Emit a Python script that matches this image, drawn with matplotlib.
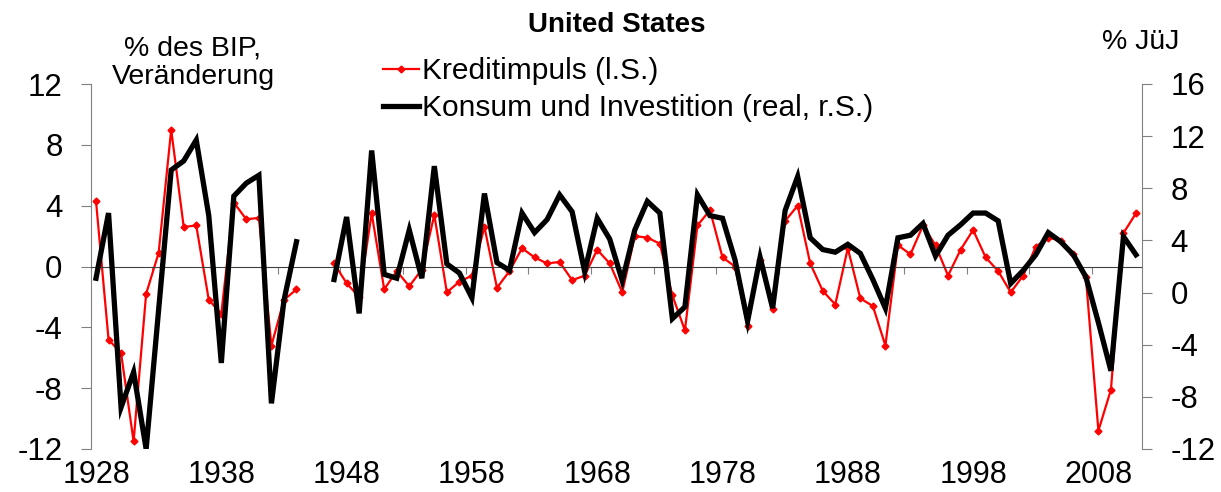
import numpy as np
import matplotlib
matplotlib.use("Agg")
import matplotlib.pyplot as plt

plt.rcParams["font.family"] = ["Liberation Sans", "DejaVu Sans"]
plt.rcParams["axes.unicode_minus"] = False

nan = np.nan
years = np.arange(1928, 2012)

# Kreditimpuls, % des BIP (left axis)
credit_impulse = [
    4.3, -4.8, -5.7, -11.5, -1.8, 0.9, 9.0, 2.6, 2.7, -2.2,
    -3.1, 4.2, 3.1, 3.2, -5.2, -2.2, -1.5, nan, nan, 0.2,
    -1.1, -2.0, 3.5, -1.5, -0.3, -1.3, -0.2, 3.4, -1.7, -1.0,
    -0.6, 2.6, -1.4, -0.3, 1.2, 0.6, 0.2, 0.3, -0.9, -0.6,
    1.1, 0.2, -1.7, 2.0, 1.9, 1.5, -1.9, -4.2, 2.7, 3.7,
    0.6, 0.0, -3.9, 0.4, -2.8, 3.0, 4.0, 0.2, -1.6, -2.5,
    1.2, -2.1, -2.6, -5.2, 1.4, 0.8, 2.7, 1.4, -0.6, 1.1,
    2.4, 0.6, -0.3, -1.7, -0.6, 1.3, 1.9, 1.7, 0.8, -0.7,
    -10.8, -8.1, 2.2, 3.5,
]

# Konsum und Investition, real, % JuJ (right axis)
consumption_investment = [
    1.1, 6.1, -8.8, -6.1, -12.0, -1.3, 9.4, 10.1, 11.7, 5.9,
    -5.4, 7.4, 8.4, 9.0, -8.5, -0.6, 3.9, nan, nan, 1.0,
    5.8, -1.6, 10.9, 1.4, 1.1, 4.8, 1.1, 9.7, 2.2, 1.5,
    -0.4, 7.6, 2.3, 1.7, 6.1, 4.6, 5.6, 7.5, 6.2, 1.6,
    5.7, 4.1, 0.9, 4.8, 7.0, 6.1, -2.0, -1.1, 7.5, 5.9,
    5.7, 2.5, -2.2, 2.7, -1.2, 6.3, 8.9, 4.2, 3.3, 3.1,
    3.7, 3.0, 1.0, -1.2, 4.2, 4.4, 5.3, 2.8, 4.4, 5.2,
    6.1, 6.1, 5.5, 0.7, 1.7, 2.9, 4.6, 3.9, 2.9, 1.2,
    -2.3, -6.0, 4.3, 2.9,
]

label_years = [1928, 1938, 1948, 1958, 1968, 1978, 1988, 1998, 2008]
left_ticks = [-12, -8, -4, 0, 4, 8, 12]
right_ticks = [-12, -8, -4, 0, 4, 8, 12, 16]

W, H = 1221, 492
fig = plt.figure(figsize=(W / 100, H / 100), dpi=100)
ax = fig.add_axes([91 / W, 1 - 449 / H, (1142 - 91) / W, (449 - 84) / H])
ax2 = ax.twinx()

red_line, = ax.plot(years, credit_impulse, color="#ff0000", linewidth=1.6,
                    marker="D", markersize=3.5, label="Kreditimpuls (l.S.)")
black_line, = ax2.plot(years, consumption_investment, color="black",
                       linewidth=3.8, solid_joinstyle="miter",
                       label="Konsum und Investition (real, r.S.)")

ax.set_xlim(1927.6, 2011.48)
ax.set_ylim(-12, 12)
ax2.set_ylim(-12, 16)
ax.set_yticks(left_ticks)
ax2.set_yticks(right_ticks)

grey = "#808080"
for s in ["top", "right"]:
    ax.spines[s].set_visible(False)
for s in ["top", "left", "bottom"]:
    ax2.spines[s].set_visible(False)
ax.spines["left"].set_color(grey)
ax2.spines["right"].set_color(grey)
ax.spines["bottom"].set_position(("data", 0))
ax.spines["bottom"].set_color("#404040")

# small ticks on the zero line, no labels
ax.set_xticks(np.arange(1932.5, 2011, 5))
ax.tick_params(axis="x", length=5, color=grey, labelbottom=False)

ax.tick_params(axis="y", length=7.5, color=grey, pad=13, labelsize=22.5)
ax2.tick_params(axis="y", length=7.5, color=grey, pad=13, labelsize=22.5)

sec = ax.secondary_xaxis(0.0)
sec.set_xticks(label_years)
sec.set_xticklabels([str(y) for y in label_years])
sec.tick_params(length=0, pad=8, labelsize=22)
sec.spines["bottom"].set_visible(False)

fig.text(617 / W, 1 - 25 / H, "United States", ha="center", va="center",
         fontsize=20, fontweight="bold")
fig.text(193 / W, 1 - 63 / H, "% des BIP,\nVeränderung", ha="center",
         va="center", fontsize=20.5, linespacing=1.15)
fig.text(1141 / W, 1 - 42 / H, "% JüJ", ha="center", va="center",
         fontsize=20.5)

ax2.legend(handles=[red_line, black_line], loc="upper left",
           bbox_to_anchor=(383 / W, 1 - 57 / H),
           bbox_transform=fig.transFigure, frameon=False, fontsize=21.5,
           handlelength=1.2, handletextpad=0.1, borderpad=0,
           borderaxespad=0, labelspacing=0.3)

fig.savefig("out.png", dpi=100)
